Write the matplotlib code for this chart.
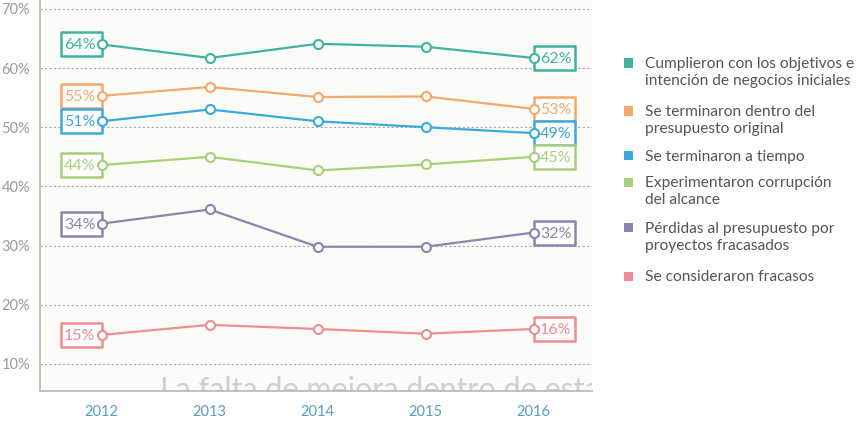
import matplotlib
matplotlib.use("Agg")
import matplotlib.pyplot as plt
from matplotlib.patches import Rectangle
from matplotlib.transforms import offset_copy
from matplotlib.path import Path

plt.rcParams['font.family'] = ['Lato', 'DejaVu Sans']

years = [2012, 2013, 2014, 2015, 2016]
series_names = [
    "Cumplieron con los objetivos e\nintención de negocios iniciales",
    "Se terminaron dentro del\npresupuesto original",
    "Se terminaron a tiempo",
    "Experimentaron corrupción\ndel alcance",
    "Pérdidas al presupuesto por\nproyectos fracasados",
    "Se consideraron fracasos",
]
objetivos = [64.0, 61.7, 64.1, 63.6, 61.7]
presupuesto = [55.3, 56.8, 55.1, 55.2, 53.1]
tiempo = [51.0, 53.0, 51.0, 50.0, 49.0]
corrupcion = [43.6, 45.0, 42.7, 43.7, 45.0]
perdidas = [33.7, 36.1, 29.8, 29.8, 32.2]
fracasos = [14.9, 16.6, 15.9, 15.1, 15.9]
start_labels = ["64%", "55%", "51%", "44%", "34%", "15%"]
end_labels = ["62%", "53%", "49%", "45%", "32%", "16%"]
y_ticks = [10, 20, 30, 40, 50, 60, 70]
y_tick_labels = ["10%", "20%", "30%", "40%", "50%", "60%", "70%"]

colors = ["#3fb39e", "#f4a96c", "#3ea8dc", "#a7cf7c", "#8b84ad", "#ee8d92"]
all_series = [objetivos, presupuesto, tiempo, corrupcion, perdidas, fracasos]

W, H = 859, 441
fig = plt.figure(figsize=(W / 100, H / 100), dpi=100)
fig.patch.set_facecolor("white")
ax = fig.add_axes([40 / W, 1 - 391 / H, (592 - 40) / W, 391 / H])
ax.set_facecolor("#fbfbf8")
ax.set_xlim(2011.43, 2016.54)
ax.set_ylim(5.42, 71.5)

for spine in ["top", "right"]:
    ax.spines[spine].set_visible(False)
for spine in ["left", "bottom"]:
    ax.spines[spine].set_color("#b5b5c0")
    ax.spines[spine].set_linewidth(1.2)

ax.set_yticks(y_ticks)
ax.set_yticklabels(y_tick_labels)
ax.set_xticks(years)
ax.set_xticklabels([str(y) for y in years])
ax.tick_params(axis="y", length=0, labelsize=10.5, labelcolor="#999999", pad=7)
ax.tick_params(axis="x", length=0, labelsize=10.5, labelcolor="#5b9bc8", pad=10)
ax.grid(axis="y", color="#a8a8a8", linestyle=(0, (2, 2)), linewidth=0.8)
ax.set_axisbelow(True)

ax.text(2012.54, 7.9, "La falta de mejora dentro de esta", fontsize=22,
        color="#cfcfcf", ha="left", va="top", clip_on=True, zorder=1)

# rectangular marker for label boxes (41 x 24 px)
rect_marker = Path([(-1, -0.585), (1, -0.585), (1, 0.585), (-1, 0.585), (-1, -0.585)],
                   [Path.MOVETO, Path.LINETO, Path.LINETO, Path.LINETO, Path.CLOSEPOLY])
box_ms = 41 * 72 / 100.0

for vals, c, sl, el in zip(all_series, colors, start_labels, end_labels):
    lt = offset_copy(ax.transData, fig=fig, x=-20.5, y=0, units="dots")
    rt = offset_copy(ax.transData, fig=fig, x=20.5, y=0, units="dots")
    ax.plot([years[0]], [vals[0]], transform=lt, marker=rect_marker, ms=box_ms,
            mfc="white", mec=c, mew=1.8, ls="none", zorder=3)
    ax.plot([years[-1]], [vals[-1]], transform=rt, marker=rect_marker, ms=box_ms,
            mfc="white", mec=c, mew=1.8, ls="none", zorder=3)
    ax.plot(years, vals, color=c, lw=1.6, marker="o", ms=6.5, mfc="white",
            mec=c, mew=1.5, zorder=4)
    ax.text(years[0], vals[0], sl, transform=offset_copy(ax.transData, fig=fig, x=-22, y=-1, units="dots"),
            ha="center", va="center", fontsize=11.5, color=c, zorder=5)
    ax.text(years[-1], vals[-1], el, transform=offset_copy(ax.transData, fig=fig, x=22, y=-1, units="dots"),
            ha="center", va="center", fontsize=11.5, color=c, zorder=5)

# Legend
leg_y = [63, 111, 155.5, 182, 227.5, 276]
for name, c, y in zip(series_names, colors, leg_y):
    fig.patches.append(Rectangle((624 / W, 1 - (y + 4.5) / H), 9 / W, 9 / H,
                                 transform=fig.transFigure, fc=c, ec="none"))
    for i, line in enumerate(name.split("\n")):
        fig.text(645 / W, 1 - (y + 5 + 17 * i) / H, line, fontsize=11.2,
                 color="#555555", ha="left", va="baseline")

fig.savefig("out.png", dpi=100)
